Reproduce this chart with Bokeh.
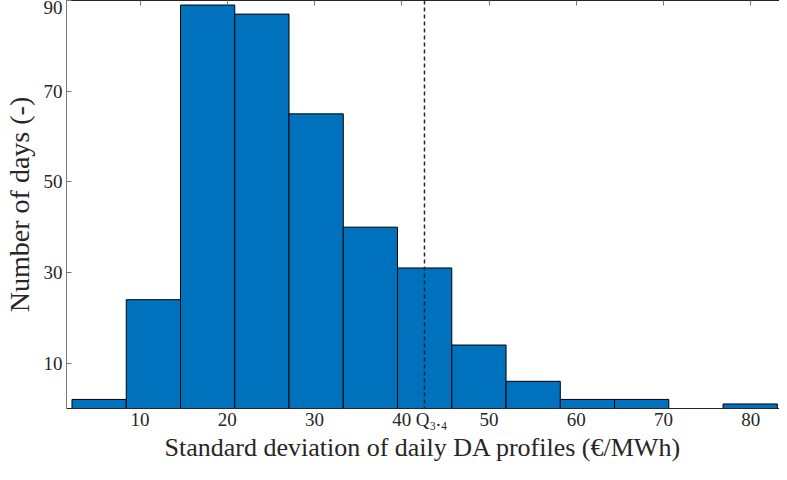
from bokeh.plotting import figure
from bokeh.models import Range1d, LinearAxis, FixedTicker, Span, ColumnDataSource
from bokeh.embed import file_html
from bokeh.resources import INLINE

# ---- data ----
bin_edges = [2.19, 8.41, 14.63, 20.85, 27.07, 33.29, 39.51, 45.73, 51.95, 58.17, 64.39, 70.61, 76.83, 83.05]
counts = [2, 24, 89, 87, 65, 40, 31, 14, 6, 2, 2, 0, 1]
x_ticks = [10, 20, 30, 40, 50, 60, 70, 80]
y_ticks = [10, 30, 50, 70, 90]
q_value = 42.6
q_text = "Q\u2083.\u2084"
x_label = "Standard deviation of daily DA profiles (€/MWh)"
y_label = "Number of days (-)"

FONT = "Liberation Serif"
BAR = "#0072BD"
AX = "#262626"

src = ColumnDataSource(dict(left=bin_edges[:-1], right=bin_edges[1:], top=counts,
                            bottom=[0] * len(counts)))

p = figure(width=779, height=464, output_backend="svg", toolbar_location=None,
           x_range=Range1d(1.56, 83.3), y_range=Range1d(0, 90),
           min_border_top=0, min_border_right=0, min_border_left=0, min_border_bottom=0)
p.outline_line_color = None
p.xgrid.visible = False
p.ygrid.visible = False
p.background_fill_color = "white"
p.border_fill_color = "white"

p.quad(left="left", right="right", top="top", bottom="bottom", source=src,
       fill_color=BAR, line_color="black", line_width=1)

for ax in (p.xaxis[0], p.yaxis[0]):
    ax.major_tick_in = 5
    ax.major_tick_out = 0
    ax.minor_tick_in = 0
    ax.minor_tick_out = 0
    ax.axis_line_color = AX
    ax.major_tick_line_color = "#777777"
    ax.major_label_text_font = FONT
    ax.major_label_text_font_size = "19px"
    ax.major_label_text_color = AX
    ax.axis_label_text_font = FONT
    ax.axis_label_text_font_style = "normal"
    ax.axis_label_text_color = AX

p.xaxis.axis_label_text_font_size = "26px"
p.yaxis.axis_label_text_font_size = "28px"
p.xaxis.ticker = FixedTicker(ticks=x_ticks + [q_value])
p.xaxis.major_label_overrides = {q_value: "\u00a0\u00a0\u00a0" + q_text}
p.xaxis.major_tick_in = 0
p.yaxis.ticker = FixedTicker(ticks=y_ticks)
p.xaxis.axis_label = x_label
p.yaxis.axis_label = y_label
p.xaxis.major_label_standoff = 0
p.xaxis.axis_label_standoff = 0
p.yaxis.major_label_standoff = 4
p.yaxis.axis_label_standoff = 6
p.yaxis.axis_line_color = "#7a7a7a"

top = LinearAxis(ticker=FixedTicker(ticks=x_ticks), major_label_text_font_size="0px",
                 major_tick_in=5, major_tick_out=0, minor_tick_in=0, minor_tick_out=0,
                 major_label_standoff=0, axis_line_color=AX, major_tick_line_color="#777777")
p.add_layout(top, "above")

p.add_layout(Span(location=q_value, dimension="height", line_color=AX,
                  line_width=1.5, line_dash="4 3"))

open("out.html", "w").write(file_html(p, INLINE))
